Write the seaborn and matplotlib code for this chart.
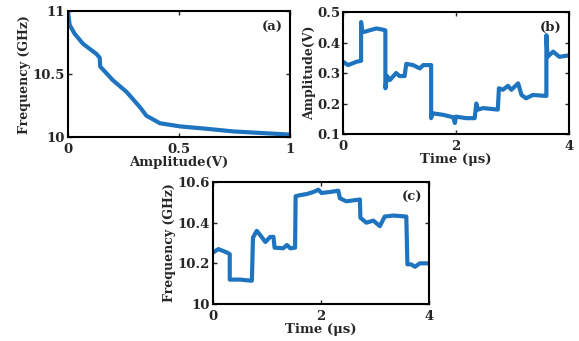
import matplotlib
matplotlib.use("Agg")
import matplotlib.pyplot as plt
import seaborn as sns
import pandas as pd

# Panel (a): frequency vs amplitude
amp_a = [0.0, 0.0075, 0.03, 0.068, 0.128, 0.143, 0.145, 0.203, 0.263, 0.323, 0.353,
         0.414, 0.504, 0.624, 0.744, 0.895, 1.0]
freq_a = [11.0, 10.89, 10.82, 10.74, 10.66, 10.63, 10.56, 10.45, 10.36, 10.24, 10.17,
          10.11, 10.085, 10.066, 10.045, 10.03, 10.02]

# Panel (b): amplitude vs time
time_b = [0.0, 0.09, 0.24, 0.32, 0.32, 0.34, 0.38, 0.47, 0.59, 0.71, 0.75, 0.75, 0.78,
          0.83, 0.94, 1.0, 1.09, 1.12, 1.24, 1.36, 1.42, 1.56, 1.56, 1.58, 1.77, 1.95,
          1.98, 2.0, 2.18, 2.33, 2.36, 2.39, 2.48, 2.74, 2.76, 2.83, 2.92, 2.98, 3.1,
          3.16, 3.24, 3.36, 3.58, 3.6, 3.6, 3.62, 3.72, 3.83, 4.0]
amp_b = [0.337, 0.326, 0.337, 0.34, 0.467, 0.435, 0.435, 0.44, 0.446, 0.442, 0.44, 0.25,
         0.29, 0.277, 0.30, 0.29, 0.29, 0.33, 0.326, 0.315, 0.326, 0.326, 0.152, 0.168,
         0.163, 0.155, 0.136, 0.157, 0.152, 0.152, 0.2, 0.18, 0.185, 0.18, 0.25, 0.245,
         0.258, 0.245, 0.266, 0.228, 0.217, 0.228, 0.225, 0.225, 0.424, 0.353, 0.37,
         0.353, 0.358]

# Panel (c): frequency vs time
time_c = [0.0, 0.1, 0.26, 0.31, 0.31, 0.5, 0.69, 0.72, 0.74, 0.81, 0.87, 0.97, 1.06,
          1.12, 1.14, 1.3, 1.37, 1.43, 1.52, 1.53, 1.61, 1.74, 1.86, 1.95, 2.01, 2.17,
          2.32, 2.35, 2.47, 2.72, 2.73, 2.84, 2.97, 3.09, 3.18, 3.34, 3.58, 3.6, 3.67,
          3.74, 3.83, 4.0]
freq_c = [10.253, 10.27, 10.253, 10.245, 10.12, 10.12, 10.115, 10.115, 10.326, 10.36,
          10.34, 10.305, 10.33, 10.33, 10.277, 10.274, 10.29, 10.274, 10.277, 10.53,
          10.535, 10.541, 10.551, 10.562, 10.546, 10.551, 10.557, 10.52, 10.505, 10.514,
          10.424, 10.40, 10.41, 10.383, 10.43, 10.435, 10.43, 10.195, 10.195, 10.183,
          10.2, 10.2]

sns.set_style("ticks")
plt.rcParams['font.family'] = ['DejaVu Serif']
plt.rcParams['font.weight'] = 'bold'
plt.rcParams['axes.labelweight'] = 'bold'

color = "#1f74c0"
fig = plt.figure(figsize=(5.79, 3.41), dpi=100)

def style(ax, xlim, ylim, xticks, yticks, xt_lab, yt_lab, xlabel, ylabel, tag):
    ax.set_xlim(*xlim)
    ax.set_ylim(*ylim)
    ax.set_xticks(xticks)
    ax.set_yticks(yticks)
    ax.set_xticklabels(xt_lab, fontsize=9.5, fontweight='bold')
    ax.set_yticklabels(yt_lab, fontsize=9.5, fontweight='bold')
    ax.set_xlabel(xlabel, fontsize=9.5, fontweight='bold', labelpad=0)
    ax.set_ylabel(ylabel, fontsize=9, fontweight='bold', labelpad=1)
    ax.tick_params(direction='in', top=True, right=True, length=3, width=1)
    ax.tick_params(axis='x', pad=4.5)
    ax.tick_params(axis='y', pad=2)
    for s in ax.spines.values():
        s.set_visible(True)
        s.set_linewidth(1.5)
        s.set_color('black')
    ax.text(0.92, 0.87, tag, transform=ax.transAxes, ha='center', va='center',
            fontsize=9.5, fontweight='bold')

ax_a = fig.add_axes([0.1174, 0.598, 0.3834, 0.3695])
sns.lineplot(x=amp_a, y=freq_a, ax=ax_a, color=color, linewidth=3, sort=False, estimator=None)
style(ax_a, (0, 1), (10, 11), [0, 0.5, 1], [10, 10.5, 11], ['0', '0.5', '1'],
      ['10', '10.5', '11'], 'Amplitude(V)', 'Frequency (GHz)', '(a)')

ax_b = fig.add_axes([0.5924, 0.607, 0.3903, 0.3578])
sns.lineplot(x=time_b, y=amp_b, ax=ax_b, color=color, linewidth=3, sort=False, estimator=None)
style(ax_b, (0, 4), (0.1, 0.5), [0, 2, 4], [0.1, 0.2, 0.3, 0.4, 0.5], ['0', '2', '4'],
      ['0.1', '0.2', '0.3', '0.4', '0.5'], 'Time (μs)', 'Amplitude(V)', '(b)')

ax_c = fig.add_axes([0.3679, 0.1085, 0.373, 0.3578])
sns.lineplot(x=time_c, y=freq_c, ax=ax_c, color=color, linewidth=3, sort=False, estimator=None)
style(ax_c, (0, 4), (10, 10.6), [0, 2, 4], [10, 10.2, 10.4, 10.6], ['0', '2', '4'],
      ['10', '10.2', '10.4', '10.6'], 'Time (μs)', 'Frequency (GHz)', '(c)')

fig.savefig("out.png", dpi=100)
